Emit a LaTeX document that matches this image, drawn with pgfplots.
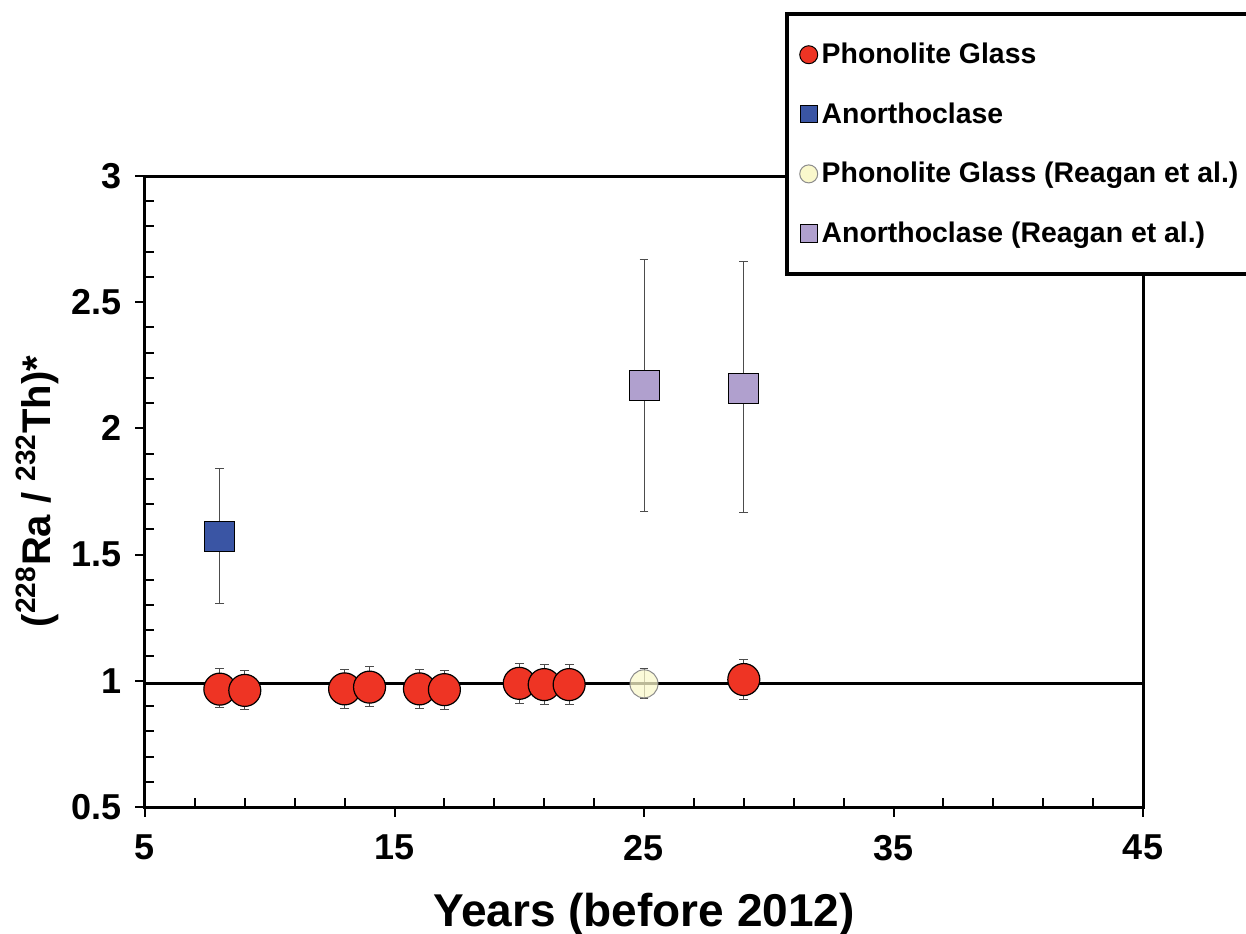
\documentclass[border=0pt]{standalone}
\usepackage{pgfplots}
\pgfplotsset{compat=1.18}
\usepackage{fontspec}
\setmainfont{Liberation Sans}
\definecolor{pgred}{RGB}{238,52,36}
\definecolor{anblue}{RGB}{58,85,164}
\definecolor{relav}{RGB}{176,160,206}
\definecolor{reyel}{RGB}{250,248,204}
\begin{document}
\begin{tikzpicture}
\begin{axis}[
  at={(0,0)}, anchor=south west,
  scale only axis, width=499pt, height=315.5pt,
  xmin=5, xmax=45, ymin=0.5, ymax=3,
  xtick={5,15,...,45}, ytick={0.5,1,...,3},
  minor x tick num=4, minor y tick num=4,
  tick pos=left,
  tick align=inside, major tick length=-5pt, minor tick length=4.5pt,
  every tick/.style={black, line width=1pt},
  axis line style={black, line width=1.5pt},
  /pgf/number format/assume math mode=true,
  ticklabel style={font=\fontsize{18}{20}\selectfont\bfseries},
  yticklabel style={xshift=-8pt},
  xticklabel style={yshift=-10.5pt},
  xlabel={\textbf{Years (before 2012)}},
  xlabel style={font=\fontsize{23}{26}\selectfont, at={(axis description cs:0.5,-0.17)}, anchor=center},
  ylabel={\textbf{(\textsuperscript{228}Ra / \textsuperscript{232}Th)*}},
  ylabel style={font=\fontsize{20}{23}\selectfont, at={(axis description cs:-0.108,0.5)}, anchor=center},
  clip=false,
  legend cell align=left,
  legend style={at={(0.641,1.26)}, anchor=north west, draw=black, line width=2pt,
    font=\fontsize{14.2}{16}\selectfont\bfseries, row sep=14pt, inner xsep=6.5pt, inner ysep=12.5pt},
  error bars/error bar style={line width=0.5pt, black!70},
  error bars/error mark options={rotate=90, mark size=2.2pt, line width=0.5pt, black!70},
]
% Reagan anorthoclase
\addplot[forget plot, only marks, mark=square*, mark size=7.5pt,
  mark options={fill=relav, draw=black, line width=0.5pt},
  error bars/.cd, y dir=both, y explicit]
  coordinates {
  (25,2.17) += (0,0.50) -= (0,0.50)
  (29,2.16) += (0,0.50) -= (0,0.495)
  };
% Anorthoclase
\addplot[forget plot, only marks, mark=square*, mark size=7.5pt,
  mark options={fill=anblue, draw=black, line width=0.5pt},
  error bars/.cd, y dir=both, y explicit]
  coordinates {
  (8,1.57) += (0,0.27) -= (0,0.265)
  };
% Reagan phonolite glass
\addplot[forget plot, only marks, mark=*, mark size=7pt,
  mark options={fill=reyel, draw=black!45, line width=0.5pt, fill opacity=0.75},
  error bars/.cd, y dir=both, y explicit]
  coordinates {
  (25,0.988) += (0,0.062) -= (0,0.058)
  };
% Phonolite glass
\addplot[forget plot, only marks, mark=*, mark size=8pt,
  mark options={fill=pgred, draw=black, line width=0.6pt},
  error bars/.cd, y dir=both, y explicit]
  coordinates {
  (8,0.967) += (0,0.080) -= (0,0.072)
  (9,0.962) += (0,0.077) -= (0,0.077)
  (13,0.968) += (0,0.078) -= (0,0.078)
  (14,0.975) += (0,0.080) -= (0,0.075)
  (16,0.968) += (0,0.078) -= (0,0.078)
  (17,0.965) += (0,0.077) -= (0,0.077)
  (20,0.990) += (0,0.080) -= (0,0.078)
  (21,0.985) += (0,0.078) -= (0,0.078)
  (22,0.985) += (0,0.078) -= (0,0.078)
  (29,1.005) += (0,0.080) -= (0,0.078)
  };
% reference line
\addplot[forget plot, black, line width=1.6pt] coordinates {(5,0.988) (45,0.988)};
% legend
\addlegendimage{legend image code/.code={\draw[black, line width=0.5pt, mark=*, mark size=4.5pt, mark options={fill=pgred}] plot coordinates {(0.25cm,0pt)};}}
\addlegendentry{\makebox[223pt][l]{Phonolite Glass}}
\addlegendimage{legend image code/.code={\draw[black, line width=0.5pt, mark=square*, mark size=4.3pt, mark options={fill=anblue}] plot coordinates {(0.25cm,0pt)};}}
\addlegendentry{Anorthoclase}
\addlegendimage{legend image code/.code={\draw[black!45, line width=0.5pt, mark=*, mark size=4.5pt, mark options={fill=reyel}] plot coordinates {(0.25cm,0pt)};}}
\addlegendentry{Phonolite Glass (Reagan et al.)}
\addlegendimage{legend image code/.code={\draw[black, line width=0.5pt, mark=square*, mark size=4.3pt, mark options={fill=relav}] plot coordinates {(0.25cm,0pt)};}}
\addlegendentry{Anorthoclase (Reagan et al.)}
\end{axis}
\pgfresetboundingbox
\path[use as bounding box] (-72.5pt,-63pt) rectangle (550.5pt,403.5pt);
\end{tikzpicture}
\end{document}
